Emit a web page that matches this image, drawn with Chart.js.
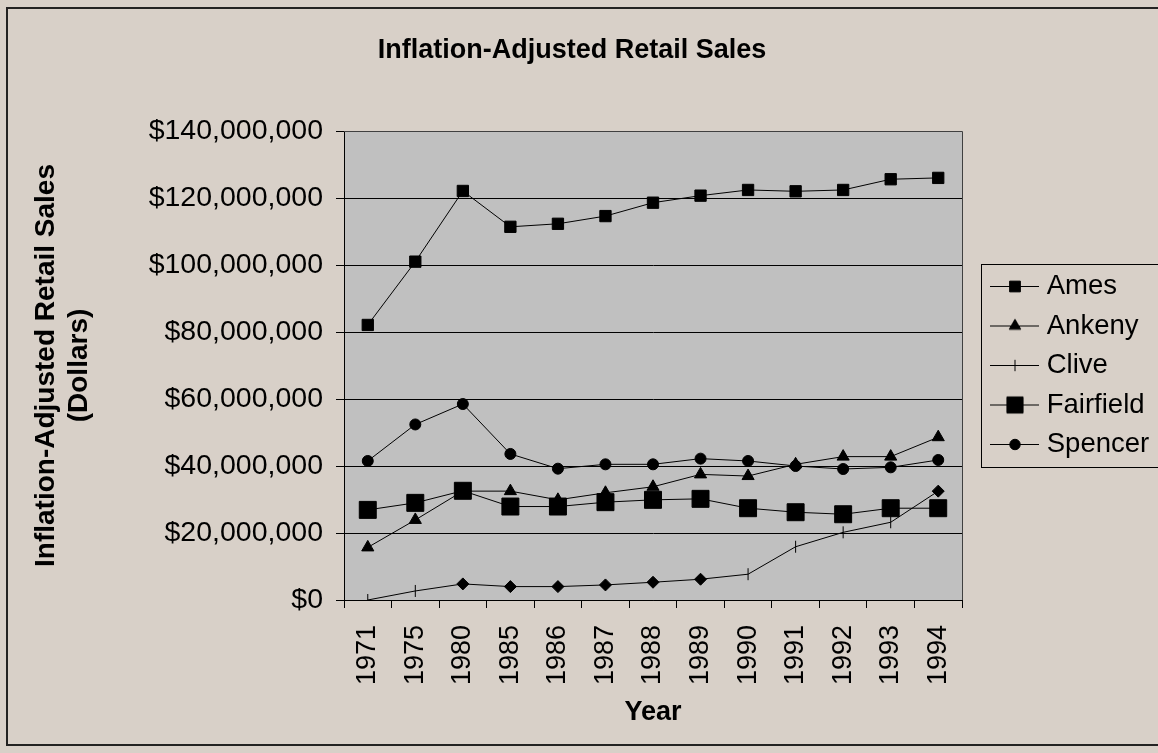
<!DOCTYPE html>
<html>
<head>
<meta charset="utf-8">
<title>Inflation-Adjusted Retail Sales</title>
<script src="https://cdn.jsdelivr.net/npm/chart.js@4.4.1/dist/chart.umd.min.js"></script>
<style>
  html, body { margin: 0; padding: 0; background: #d8d0c8; }
  canvas { display: block; }
</style>
</head>
<body>
<canvas id="sales" width="1158" height="753"></canvas>
<script>
const years = ['1971', '1975', '1980', '1985', '1986', '1987', '1988', '1989', '1990', '1991', '1992', '1993', '1994']

const ames      = [82100000, 101000000, 122100000, 111400000, 112300000, 114600000, 118600000, 120700000, 122400000, 122000000, 122400000, 125600000, 126000000]
const ankeny    = [15700000, 23900000, 32500000, 32500000, 29900000, 32000000, 33800000, 37500000, 37000000, 40500000, 42800000, 42800000, 48600000]
const clive     = [0, 2700000, 4800000, 4000000, 4000000, 4500000, 5300000, 6200000, 7700000, 15900000, 20200000, 23200000, 32500000]
const fairfield = [26900000, 29000000, 32600000, 27900000, 27900000, 29200000, 29900000, 30200000, 27400000, 26200000, 25600000, 27400000, 27400000]
const spencer   = [41500000, 52400000, 58500000, 43600000, 39200000, 40500000, 40500000, 42200000, 41500000, 40000000, 39100000, 39600000, 41800000]

const yMax = 140000000
const yStep = 20000000

const FONT = '"Liberation Sans", Arial, Helvetica, sans-serif'

// Clive's markers alternate between a plain tick and a diamond
const cliveMarks = ['line', 'line', 'rectRot', 'rectRot', 'rectRot', 'rectRot', 'rectRot', 'rectRot', 'line', 'line', 'line', 'line', 'rectRot']

const series = [
    { label: 'Ames',      data: ames,      style: 'rect',     radius: 8,  rotation: 0 },
    { label: 'Ankeny',    data: ankeny,    style: 'triangle', radius: 7,  rotation: 0 },
    { label: 'Clive',     data: clive,     style: cliveMarks, radius: 6,  rotation: cliveMarks.map(s => s === 'line' ? 90 : 0) },
    { label: 'Fairfield', data: fairfield, style: 'rect',     radius: 12, rotation: 0 },
    { label: 'Spencer',   data: spencer,   style: 'circle',   radius: 5.5, rotation: 0 }
]

// little line-with-marker sample used by the legend
function swatch(style, radius, rotation) {
    const c = document.createElement('canvas')
    c.width = 101
    c.height = 25
    const g = c.getContext('2d')
    g.strokeStyle = '#000'
    g.fillStyle = '#000'
    g.lineWidth = 1
    g.beginPath()
    g.moveTo(37, 12.5)
    g.lineTo(86, 12.5)
    g.stroke()
    Chart.helpers.drawPoint(g, { pointStyle: style, radius: radius, rotation: rotation, borderWidth: 1 }, 62, 12.5)
    return c
}

const swatches = series.map(s => {
    const st = Array.isArray(s.style) ? s.style[0] : s.style
    const rot = Array.isArray(s.rotation) ? s.rotation[0] : s.rotation
    return swatch(st, s.radius * 0.95, rot)
})

const frame = {
    id: 'frame',
    beforeDraw(chart) {
        const { ctx, chartArea: a, width, height } = chart
        ctx.save()
        ctx.fillStyle = '#d8d0c8'
        ctx.fillRect(0, 0, width, height)
        ctx.fillStyle = '#c0c0c0'
        ctx.fillRect(a.left, a.top, a.right - a.left, a.bottom - a.top)
        ctx.restore()
    },
    beforeDatasetsDraw(chart) {
        const { ctx, chartArea: a } = chart
        ctx.save()
        ctx.strokeStyle = '#404040'
        ctx.lineWidth = 1
        ctx.beginPath()
        ctx.moveTo(a.left, Math.round(a.top) + 0.5)
        ctx.lineTo(Math.round(a.right) + 0.5, Math.round(a.top) + 0.5)
        ctx.lineTo(Math.round(a.right) + 0.5, a.bottom)
        ctx.stroke()
        ctx.restore()
    },
    afterDraw(chart) {
        const { ctx, width } = chart
        ctx.save()
        // outer chart border
        ctx.strokeStyle = '#222'
        ctx.lineWidth = 2
        ctx.strokeRect(7, 8, width + 20, 737)
        // legend box
        const boxes = chart.legend.legendHitBoxes
        if (boxes && boxes.length) {
            const first = boxes[0]
            const last = boxes[boxes.length - 1]
            const left = Math.round(first.left + 7) + 0.5
            const top = Math.round(first.top - 9) + 0.5
            const bottom = Math.round(last.top + last.height + 9) + 0.5
            ctx.strokeStyle = '#000'
            ctx.lineWidth = 1
            ctx.strokeRect(left, top, width + 10 - left, bottom - top)
        }
        ctx.restore()
    }
}

new Chart(document.getElementById('sales'), {
    type: 'line',
    data: {
        labels: years,
        datasets: series.map((s, i) => ({
            label: s.label,
            data: s.data,
            order: series.length - i,
            borderColor: '#000',
            borderWidth: 1,
            tension: 0,
            fill: false,
            pointStyle: s.style,
            pointRadius: s.radius,
            pointRotation: s.rotation,
            pointBackgroundColor: '#000',
            pointBorderColor: '#000',
            pointBorderWidth: 1
        }))
    },
    options: {
        responsive: false,
        animation: false,
        events: [],
        layout: { padding: { left: -7, right: 7, top: 0, bottom: 0 } },
        plugins: {
            title: {
                display: true,
                text: 'Inflation-Adjusted Retail Sales',
                color: '#000',
                font: { family: FONT, size: 27, weight: 'bold' },
                padding: { top: 34, bottom: 64.6 }
            },
            legend: {
                position: 'right',
                align: 'center',
                fullSize: false,
                maxWidth: 189,
                labels: {
                    usePointStyle: true,
                    pointStyleWidth: 59,
                    boxHeight: 27,
                    padding: 12,
                    color: '#000',
                    font: { family: FONT, size: 27.5 },
                    generateLabels: chart => chart.data.datasets.map((ds, i) => ({
                        text: ds.label,
                        pointStyle: swatches[i],
                        fontColor: '#000',
                        lineWidth: 0,
                        hidden: false,
                        datasetIndex: i
                    }))
                }
            },
            tooltip: { enabled: false }
        },
        scales: {
            x: {
                offset: true,
                grid: { drawOnChartArea: false, drawTicks: true, tickLength: 8, offset: true, color: '#000', tickColor: '#000' },
                border: { display: true, color: '#000', width: 1 },
                ticks: { autoSkip: false, minRotation: 90, maxRotation: 90, padding: 17, color: '#000', font: { family: FONT, size: 27 } },
                title: {
                    display: true,
                    text: 'Year',
                    color: '#000',
                    font: { family: FONT, size: 27, weight: 'bold' },
                    padding: { top: 0, bottom: 24 }
                },
                afterFit(scale) { scale.height = 153 }
            },
            y: {
                min: 0,
                max: yMax,
                grid: { color: '#000', tickColor: '#000', tickLength: 8, drawTicks: true },
                border: { display: true, color: '#000', width: 1 },
                ticks: {
                    stepSize: yStep,
                    padding: 13,
                    color: '#000',
                    font: { family: FONT, size: 28.5 },
                    callback: v => '$' + v.toLocaleString('en-US')
                },
                title: {
                    display: true,
                    text: ['Inflation-Adjusted Retail Sales', '(Dollars)'],
                    color: '#000',
                    font: { family: FONT, size: 28, weight: 'bold', lineHeight: 1.2 },
                    padding: { top: 36, bottom: 0 }
                },
                afterFit(scale) { scale.width = 351 }
            }
        }
    },
    plugins: [frame]
})
</script>
</body>
</html>
